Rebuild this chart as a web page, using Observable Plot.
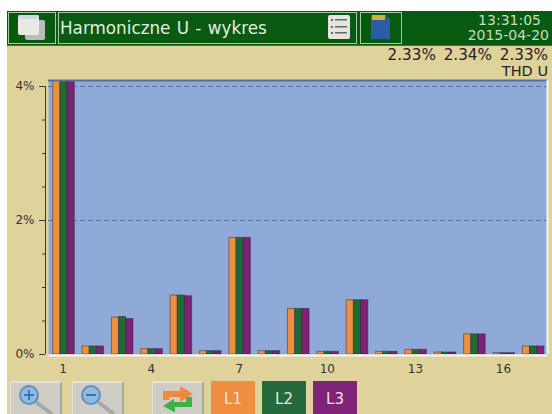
<!DOCTYPE html>
<html><head><meta charset="utf-8">
<script src="https://cdn.jsdelivr.net/npm/d3@7"></script>
<script src="https://cdn.jsdelivr.net/npm/@observablehq/plot@0.6"></script>
<style>
html,body{margin:0;padding:0;background:#fff;width:552px;height:414px;overflow:hidden;font-family:"DejaVu Sans",sans-serif}
#panel{position:absolute;left:7px;top:11px;width:545px;height:403px;background:#e0d29b}
#head{position:absolute;left:7px;top:11px;width:545px;height:35px;background:#075a10;border-bottom:1px solid #54683a;box-sizing:border-box}
.box{position:absolute;top:12px;height:32px;border:1px solid #a9c8a5;box-sizing:border-box}
.t{position:absolute;white-space:nowrap}
#chart{position:absolute;left:0;top:0}
.btn{position:absolute;top:381px;height:33px;box-sizing:border-box;background:#cfcdc6;border-top:2px solid #e4e2da;border-left:1px solid #e4e2da;border-right:2px solid #a9a79f}
.L{position:absolute;top:381px;width:44px;height:33px;color:#e8e8e0;font-size:15px;line-height:36px;text-align:center}
svg.i{position:absolute}
</style></head><body>
<div id="panel"></div>
<div id="head"></div>
<div class="box" style="left:8px;width:48px"></div>
<svg class="i" style="left:16px;top:13px" width="32" height="28"><rect x="9" y="7" width="20" height="20" rx="2" fill="#b9bdbd"/><rect x="2" y="2" width="21" height="20" rx="2" fill="#e9e9e6"/><rect x="2" y="2" width="21" height="4" rx="2" fill="#cfd9e6"/></svg>
<div class="box" style="left:58px;width:299px"></div>
<div class="t" style="left:60px;top:18px;font-size:16.8px;line-height:20px;color:#e6efe3;word-spacing:1px">Harmoniczne U - wykres</div>
<svg class="i" style="left:327px;top:14px" width="24" height="27"><rect x="1" y="1" width="22" height="24" rx="2" fill="#e6e4df"/><g fill="#666"><rect x="4" y="5" width="2" height="2"/><rect x="4" y="12" width="2" height="2"/><rect x="4" y="18" width="2" height="2"/><rect x="8" y="5" width="12" height="1.5"/><rect x="8" y="12" width="12" height="1.5"/><rect x="8" y="18" width="12" height="1.5"/></g></svg>
<div class="box" style="left:360px;width:42px"></div>
<svg class="i" style="left:369px;top:13px" width="24" height="28"><path d="M2 2H17L21 6V26H2Z" fill="#2b5da6"/><rect x="3" y="2" width="13" height="5" fill="#c9b13a"/></svg>
<div class="t" style="right:11px;top:12px;font-size:14px;line-height:16px;color:#c6dcc4">13:31:05</div>
<div class="t" style="right:3px;top:27px;font-size:14px;line-height:16px;color:#c6dcc4">2015-04-20</div>
<div class="t" style="right:4px;top:47px;font-size:15.2px;line-height:16px;color:#222;word-spacing:3px">2.33% 2.34% 2.33%</div>
<div class="t" style="right:4px;top:63px;font-size:14.5px;line-height:16px;color:#222">THD U</div>
<div id="chart"></div>
<div class="btn" style="left:10px;width:52px"></div>
<svg class="i" style="left:18px;top:384px" width="38" height="30"><line x1="18" y1="18" x2="34" y2="30" stroke="#a8a8a8" stroke-width="4"/><circle cx="11" cy="11" r="9" fill="#8fbbe0" stroke="#5f8fbb" stroke-width="2"/><path d="M6 11H16M11 6V16" stroke="#3d74b0" stroke-width="2"/></svg>
<div class="btn" style="left:72px;width:52px"></div>
<svg class="i" style="left:80px;top:384px" width="38" height="30"><line x1="18" y1="18" x2="34" y2="30" stroke="#a8a8a8" stroke-width="4"/><circle cx="11" cy="11" r="9" fill="#8fbbe0" stroke="#5f8fbb" stroke-width="2"/><path d="M6 11H16" stroke="#3d74b0" stroke-width="2"/></svg>
<div class="btn" style="left:152px;width:52px"></div>
<svg class="i" style="left:161px;top:384px" width="34" height="30"><path d="M2 16V7H19V2L32 10L19 18V13H8V16Z" fill="#ee8a3c"/><path d="M31 13V23H14V28H13L2 22L13 15V18H25V13Z" fill="#3db04a"/></svg>
<div class="L" style="left:211px;background:#ee8e3e">L1</div>
<div class="L" style="left:262px;background:#246a3a">L2</div>
<div class="L" style="left:313px;background:#7f2378">L3</div>
<script>
const harmonics = [1,2,3,4,5,6,7,8,9,10,11,12,13,14,15,16,17];
const L1 = [4.5,0.12,0.55,0.08,0.88,0.05,1.74,0.05,0.68,0.04,0.81,0.04,0.07,0.03,0.30,0.02,0.12];
const L2 = [4.5,0.12,0.56,0.08,0.88,0.05,1.74,0.05,0.68,0.04,0.81,0.04,0.07,0.03,0.30,0.02,0.12];
const L3 = [4.5,0.12,0.53,0.08,0.87,0.05,1.74,0.05,0.68,0.04,0.81,0.04,0.07,0.03,0.30,0.02,0.12];
const seriesNames = ["L1","L2","L3"];
const seriesColors = ["#ee8e3e","#1f6a35","#7e2276"];
const xTicks = [1,4,7,10,13,16];
const yMajor = [0,2,4];
const yMinor = [0.5,1,1.5,2.5,3,3.5];
const grid = [2,4];

const rows = [L1,L2,L3].flatMap((vals,s)=>vals.map((v,i)=>({h:harmonics[i],s,name:seriesNames[s],v})));
const W = 0.245;
const chart = Plot.plot({
  width:552,height:414,
  marginLeft:48,marginRight:5,marginTop:80,marginBottom:60,
  style:{background:"transparent",fontFamily:"'DejaVu Sans',sans-serif",fontSize:"12px",overflow:"visible"},
  x:{domain:[0.5,17.5],label:null},
  y:{domain:[0,4.09],label:null},
  color:{domain:seriesNames,range:seriesColors},
  marks:[
    Plot.frame({fill:"#8faad9",stroke:"none"}),
    Plot.ruleY(grid,{stroke:"#5d6f92",strokeWidth:1,strokeDasharray:"5,3"}),
    Plot.rectY(rows,{x1:d=>d.h-1.5*W+d.s*W,x2:d=>d.h-0.5*W+d.s*W,y1:0,y2:"v",fill:"name",stroke:"#2a1a30",strokeOpacity:0.45,strokeWidth:1,clip:"frame",dx:0.8}),
    Plot.ruleY([4.09],{stroke:"#5d6f92",strokeWidth:2}),
    Plot.ruleY([0],{stroke:"#f6f6f0",strokeWidth:2,dy:1}),
    Plot.ruleX([17.5],{stroke:"#f6f6f0",strokeWidth:2}),
    Plot.ruleX([0.5],{y1:0,y2:4,stroke:"#3a3a2a",strokeWidth:1,dx:-3}),
    Plot.axisY({ticks:yMajor,tickSize:6,dx:-3,tickPadding:5,tickFormat:d=>d+"%",stroke:"#3a3a2a",fill:"#333"}),
    Plot.axisY({ticks:yMinor,tickSize:3,dx:-3,tickFormat:()=>"",stroke:"#3a3a2a"}),
    Plot.axisX({ticks:xTicks,tickSize:0,tickPadding:10,tickFormat:d=>String(d),fill:"#333"})
  ]
});
document.getElementById("chart").appendChild(chart);
</script>
</body></html>
